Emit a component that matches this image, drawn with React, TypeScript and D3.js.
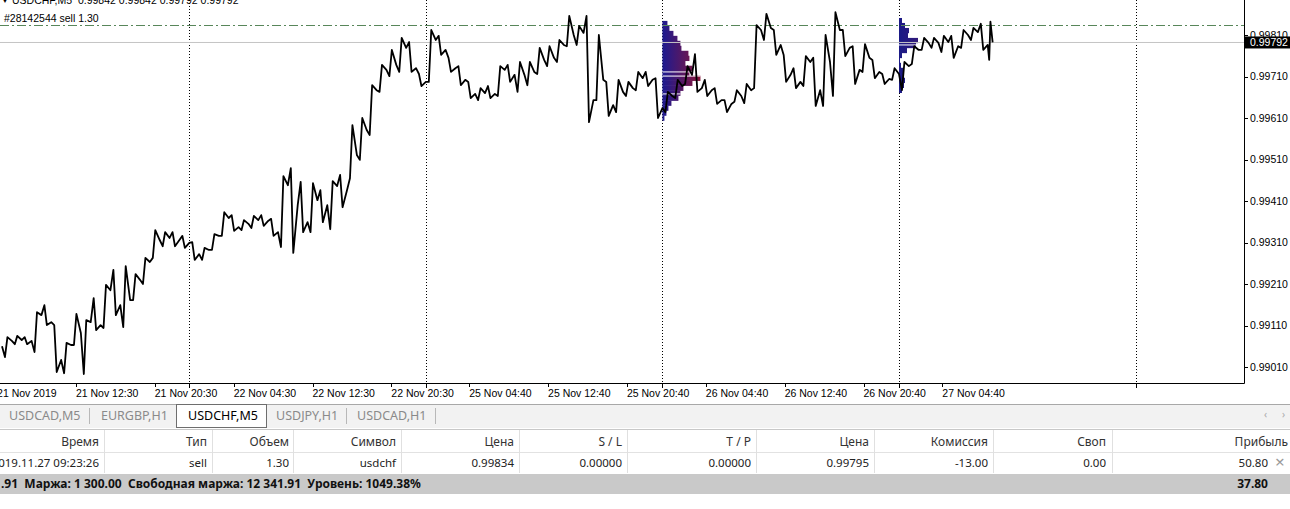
import * as d3 from 'd3'

// hourly aggregated M5 bars, hour 0 = 21 Nov 05:00
const hourHigh = [
  0.99082, 0.99085, 0.99082, 0.99142, 0.99159, 0.99111, 0.99068, 0.99138, 0.99123, 0.99176,
  0.99208, 0.99244, 0.99253, 0.99234, 0.99273, 0.9934, 0.99335, 0.99335, 0.99326, 0.99311,
  0.99297, 0.9933, 0.99383, 0.99376, 0.99364, 0.99374, 0.99376, 0.99367, 0.9947, 0.99489,
  0.99456, 0.99453, 0.99436, 0.99458, 0.99473, 0.99593, 0.9961, 0.99689, 0.99738, 0.99774,
  0.99803, 0.99793, 0.99716, 0.99822, 0.99808, 0.99755, 0.99735, 0.99697, 0.99682, 0.99687,
  0.99735, 0.99738, 0.99745, 0.99745, 0.99779, 0.99783, 0.99798, 0.99856, 0.99832, 0.99856,
  0.9981, 0.99697, 0.99702, 0.99697, 0.99721, 0.99721, 0.99706, 0.99673, 0.99702, 0.99735,
  0.99764, 0.99702, 0.99682, 0.99653, 0.99677, 0.99692, 0.99834, 0.99861, 0.99822, 0.99762,
  0.9973, 0.99759, 0.99755, 0.9981, 0.99865, 0.99822, 0.99783, 0.99788, 0.9975, 0.99716,
  0.9973, 0.99745, 0.99783, 0.99803, 0.99803, 0.99808, 0.99808, 0.99822, 0.99827, 0.99837,
  0.99842,
]
const hourLow = [
  0.99034, 0.99065, 0.99065, 0.99046, 0.99111, 0.98998, 0.98995, 0.99063, 0.98993, 0.99099,
  0.99104, 0.99135, 0.99106, 0.99171, 0.9921, 0.99273, 0.99301, 0.99301, 0.99297, 0.99268,
  0.99268, 0.99292, 0.99326, 0.99338, 0.9934, 0.99345, 0.9935, 0.99326, 0.99299, 0.99285,
  0.99335, 0.99335, 0.99359, 0.99342, 0.99395, 0.99465, 0.99509, 0.99569, 0.99673, 0.99711,
  0.99721, 0.99721, 0.99687, 0.99697, 0.99762, 0.99721, 0.99689, 0.99658, 0.99653, 0.99658,
  0.99663, 0.99697, 0.99673, 0.99689, 0.99716, 0.99735, 0.99745, 0.99783, 0.99786, 0.996,
  0.99653, 0.99615, 0.99624, 0.99663, 0.99677, 0.99687, 0.9961, 0.99624, 0.99658, 0.99692,
  0.99673, 0.99663, 0.99644, 0.99624, 0.99649, 0.99646, 0.99682, 0.99798, 0.99762, 0.99697,
  0.99682, 0.99687, 0.99639, 0.99639, 0.99663, 0.99759, 0.99692, 0.99721, 0.99706, 0.99692,
  0.99702, 0.99677, 0.9974, 0.99774, 0.99779, 0.99769, 0.99755, 0.99779, 0.99798, 0.99774,
  0.9975,
]
const hourClose = [
  0.99073, 0.99075, 0.99073, 0.99135, 0.99118, 0.99027, 0.99063, 0.99092, 0.99118, 0.99111,
  0.99195, 0.99159, 0.99171, 0.9922, 0.99263, 0.99316, 0.99321, 0.99316, 0.99309, 0.99282,
  0.99292, 0.99326, 0.99369, 0.99347, 0.99355, 0.99364, 0.99362, 0.99335, 0.99448, 0.994,
  0.99359, 0.99412, 0.994, 0.99446, 0.99436, 0.99521, 0.99581, 0.99677, 0.99726, 0.99738,
  0.99779, 0.9973, 0.99697, 0.99798, 0.99774, 0.9973, 0.99702, 0.99668, 0.9967, 0.99668,
  0.99726, 0.99714, 0.99714, 0.99721, 0.9975, 0.99755, 0.99786, 0.9981, 0.99815, 0.99653,
  0.99702, 0.99641, 0.99673, 0.99682, 0.99706, 0.99702, 0.99634, 0.99663, 0.99687, 0.99714,
  0.99682, 0.99677, 0.99653, 0.99644, 0.99663, 0.99677, 0.99822, 0.99827, 0.99786, 0.99714,
  0.99697, 0.99745, 0.99677, 0.99745, 0.99822, 0.99779, 0.99726, 0.99755, 0.99721, 0.99704,
  0.99716, 0.99735, 0.99774, 0.99791, 0.99791, 0.99793, 0.99783, 0.9981, 0.99817, 0.99786,
  0.99792,
]
const firstOpen = 0.9906
const lastBarHour = 100.5

const priceTicks = [0.9901, 0.9911, 0.9921, 0.9931, 0.9941, 0.9951, 0.9961, 0.9971, 0.9981]
const timeLabels = [
  '21 Nov 2019', '21 Nov 12:30', '21 Nov 20:30', '22 Nov 04:30', '22 Nov 12:30', '22 Nov 20:30',
  '25 Nov 04:40', '25 Nov 12:40', '25 Nov 20:40', '26 Nov 04:40', '26 Nov 12:40', '26 Nov 20:40', '27 Nov 04:40',
]
const timeLabelHours = [-0.5, 7.5, 15.5, 23.5, 31.5, 39.5, 47.4, 55.4, 63.4, 71.4, 79.4, 87.4, 95.4]
const daySeparatorHours = [19, 43, 67, 91, 115]

const bidPrice = 0.99792
const orderPrice = 0.99834
const orderLabel = '#28142544 sell 1.30'
const headerText = 'USDCHF,M5  0.99842 0.99842 0.99792 0.99792'

// volume-at-price profiles for 26 Nov and 27 Nov
const profileStep = 0.00012
const profile1Top = 0.99844
const profile1Volumes = [5, 7, 11, 15, 18, 19, 26, 27, 23, 30, 27, 38, 30, 21, 18, 16, 9, 6, 4, 2]
const profile1Levels = [0.99721, 0.99711, 0.99668]
const profile2Top = 0.99851
const profile2Volumes = [3, 6, 10, 9, 19, 17, 8, 3, 1, 2, 4, 5, 6, 5, 3]
const profile2Levels = [0.99786]
const profileStartHours = [67, 91]

const tabs = ['USDCAD,M5', 'EURGBP,H1', 'USDCHF,M5', 'USDJPY,H1', 'USDCAD,H1']
const activeTab = 2
const columns = ['Время', 'Тип', 'Объем', 'Символ', 'Цена', 'S / L', 'T / P', 'Цена', 'Комиссия', 'Своп', 'Прибыль']
const rowValues = ['2019.11.27 09:23:26', 'sell', '1.30', 'usdchf', '0.99834', '0.00000', '0.00000', '0.99795', '-13.00', '0.00', '50.80']
const summaryText = '.91  Маржа: 1 300.00  Свободная маржа: 12 341.91  Уровень: 1049.38%'
const totalProfit = '37.80'

const W = 1290
const H = 509
const plotRight = 1244
const plotBottom = 383
const chartFont = "'Liberation Sans', Arial, sans-serif"
const uiFont = "'Noto Sans', 'Open Sans', sans-serif"

const colRight = [99, 207, 289, 396, 514, 622, 751, 869, 988, 1106, 1288]
const colSep = [104, 212, 293, 401, 519, 627, 756, 874, 993, 1112]
const tabX = [9, 101, 188, 276, 357]
const tabSepX = [89, 346, 435]

export default function App() {
  const x = d3.scaleLinear().domain([0, 126]).range([2, plotRight])
  const y = d3.scaleLinear().domain([0.9901, 0.9981]).range([367, 35])
  const vol = d3.scaleLinear().domain([0, 40]).range([0, 40])

  // price path: each hour goes open -> extreme -> extreme -> close (steep spikes like M5 bars)
  const pts: [number, number][] = [[x(0), y(firstOpen)]]
  let open = firstOpen
  hourClose.forEach((c, i) => {
    const end = Math.min(i + 1, lastBarHour)
    const span = end - i
    const up = c >= open
    const a = up ? hourLow[i] : hourHigh[i]
    const b = up ? hourHigh[i] : hourLow[i]
    pts.push([x(i + span * 0.3), y(a)], [x(i + span * 0.55), y(b)], [x(end), y(c)])
    open = c
  })
  const pricePath = d3.line()(pts) || ''

  const profiles = [
    { top: profile1Top, vols: profile1Volumes, levels: profile1Levels, start: profileStartHours[0], c0: '#1d1a90', c1: '#8e1636' },
    { top: profile2Top, vols: profile2Volumes, levels: profile2Levels, start: profileStartHours[1], c0: '#1a1a86', c1: '#4c1a6e' },
  ]

  return (
    <svg width={W} height={H} style={{ position: 'absolute', left: 0, top: 0, background: '#fff' }} fontFamily={chartFont}>
      <style>{'body{margin:0}'}</style>
      <defs>
        <clipPath id="plot">
          <rect x={0} y={0} width={plotRight} height={plotBottom} />
        </clipPath>
        {profiles.map((p, k) => (
          <linearGradient key={k} id={`pg${k}`} gradientUnits="userSpaceOnUse" x1={x(p.start)} x2={x(p.start) + vol(40)} y1={0} y2={0}>
            <stop offset="0" stopColor={p.c0} />
            <stop offset="1" stopColor={p.c1} />
          </linearGradient>
        ))}
      </defs>

      <rect x={0} y={0} width={W} height={H} fill="#fff" />

      <g clipPath="url(#plot)">
        {daySeparatorHours.map(h => (
          <line key={h} x1={Math.round(x(h)) + 0.5} x2={Math.round(x(h)) + 0.5} y1={0} y2={plotBottom}
            stroke="#000" strokeWidth={1} strokeDasharray="1,2" />
        ))}

        {profiles.map((p, k) => (
          <g key={k}>
            {p.vols.map((v, j) => {
              const y0 = y(p.top - j * profileStep)
              const y1 = y(p.top - (j + 1) * profileStep)
              return v > 0 ? (
                <rect key={j} x={x(p.start)} y={y0} width={vol(v)} height={y1 - y0 + 0.3} fill={`url(#pg${k})`} />
              ) : null
            })}
            {p.levels.map((lv, j) => {
              const idx = Math.floor((p.top - lv) / profileStep)
              return (
                <line key={j} x1={x(p.start)} x2={x(p.start) + vol(p.vols[idx] || 0)} y1={y(lv)} y2={y(lv)}
                  stroke="#fff" strokeWidth={1} />
              )
            })}
          </g>
        ))}

        <line x1={0} x2={plotRight} y1={y(bidPrice)} y2={y(bidPrice)} stroke="#c4c4c4" strokeWidth={1} />
        <line x1={0} x2={plotRight} y1={Math.round(y(orderPrice)) + 0.5} y2={Math.round(y(orderPrice)) + 0.5} stroke="#58865a" strokeWidth={1}
          strokeDasharray="9,3,2,3" />

        <path d={pricePath} fill="none" stroke="#000" strokeWidth={1.8} strokeLinejoin="round" />

        <text x={1} y={3} fontSize={8}>▼</text>
        <text x={12} y={4} fontSize={10.5} fill="#000" style={{ whiteSpace: 'pre' }}>{headerText}</text>
        <text x={4} y={22} fontSize={10.5} fill="#000">{orderLabel}</text>
      </g>

      {/* frame */}
      <line x1={plotRight + 0.5} x2={plotRight + 0.5} y1={0} y2={plotBottom + 0.5} stroke="#000" />
      <line x1={0} x2={plotRight + 0.5} y1={plotBottom + 0.5} y2={plotBottom + 0.5} stroke="#000" />

      {/* price axis */}
      {priceTicks.map(t => (
        <g key={t}>
          <line x1={plotRight} x2={plotRight + 4} y1={Math.round(y(t)) + 0.5} y2={Math.round(y(t)) + 0.5} stroke="#000" />
          <text x={plotRight + 6} y={y(t)} dy="0.36em" fontSize={10.5} fill="#000">{t.toFixed(5)}</text>
        </g>
      ))}
      <rect x={plotRight + 1} y={y(bidPrice) - 6} width={W - plotRight - 1} height={12} fill="#000" />
      <text x={plotRight + 6} y={y(bidPrice)} dy="0.36em" fontSize={10.5} fill="#fff">{bidPrice.toFixed(5)}</text>

      {/* time axis */}
      {timeLabelHours.map((h, i) => (
        <g key={i}>
          {i > 0 && <line x1={Math.round(x(h)) + 0.5} x2={Math.round(x(h)) + 0.5} y1={plotBottom} y2={plotBottom + 4} stroke="#000" />}
          <text x={x(h)} y={397} fontSize={10.5} fill="#000">{timeLabels[i]}</text>
        </g>
      ))}
      {daySeparatorHours.map(h => (
        <line key={h} x1={Math.round(x(h)) + 0.5} x2={Math.round(x(h)) + 0.5} y1={plotBottom} y2={plotBottom + 5} stroke="#000" />
      ))}

      {/* tabs */}
      <g fontFamily={uiFont} fontSize={11.5}>
        <rect x={0} y={404} width={W} height={24} fill="#f2f2f2" />
        <line x1={0} x2={W} y1={404.5} y2={404.5} stroke="#a8a8a8" />
        <rect x={176.5} y={404.5} width={90} height={23} fill="#fff" stroke="#6e6e6e" />
        {tabs.map((t, i) => (
          <text key={t + i} x={tabX[i]} y={420} fontSize={12.5} fill={i === activeTab ? '#000' : '#8a8a8a'}>{t}</text>
        ))}
        {tabSepX.map(sx => (
          <line key={sx} x1={sx + 0.5} x2={sx + 0.5} y1={408} y2={424} stroke="#b8b8b8" />
        ))}
        <text x={1264} y={418} fontSize={10} fill="#aaa">‹</text>
        <text x={1282} y={418} fontSize={10} fill="#aaa">›</text>

        {/* table */}
        <line x1={0} x2={W} y1={429.5} y2={429.5} stroke="#c8c8c8" />
        <line x1={0} x2={W} y1={452.5} y2={452.5} stroke="#e2e2e2" />
        {colSep.map(sx => (
          <line key={sx} x1={sx + 0.5} x2={sx + 0.5} y1={430} y2={473} stroke="#e0e0e0" />
        ))}
        {columns.map((c, i) => (
          <text key={'h' + i} x={colRight[i]} y={446} fontSize={12} textAnchor="end" fill="#333">{c}</text>
        ))}
        {rowValues.map((v, i) => (
          <text key={'v' + i} x={i === rowValues.length - 1 ? 1268 : colRight[i]} y={467} textAnchor="end" fill="#222">{v}</text>
        ))}
        <text x={1275} y={468} fontSize={17} fill="#9a9a9a">×</text>
        <rect x={0} y={474} width={W} height={20} fill="#c9c9c9" />
        <text x={1} y={488} fontSize={12} fontWeight="bold" fill="#111" style={{ whiteSpace: 'pre' }}>{summaryText}</text>
        <text x={1268} y={488} fontSize={12} fontWeight="bold" textAnchor="end" fill="#111">{totalProfit}</text>
      </g>
    </svg>
  )
}
